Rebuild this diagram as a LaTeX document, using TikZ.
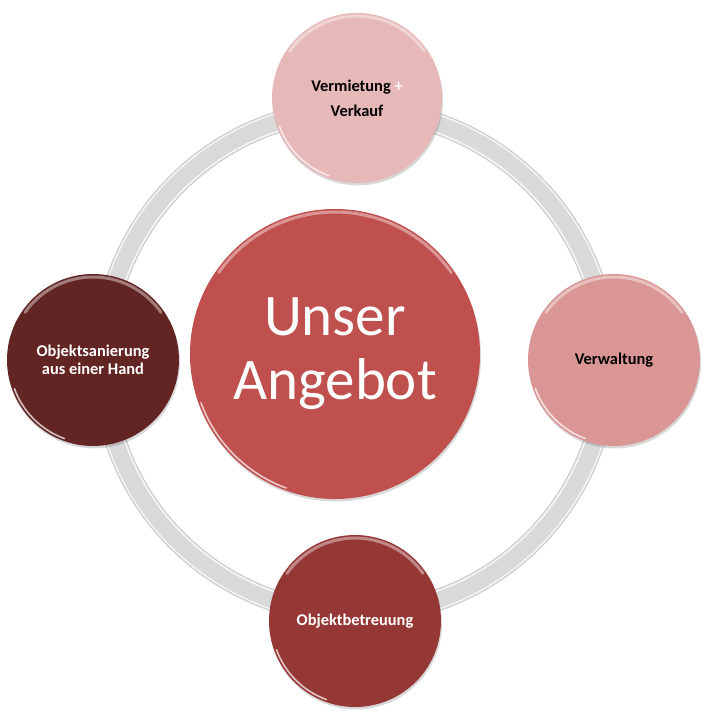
\documentclass[tikz,border=0pt]{standalone}
\usepackage{fontspec}
\setmainfont{Carlito}
\usetikzlibrary{shadows,calc}
\definecolor{ringgray}{HTML}{D9D9D9}
\definecolor{ringedge}{HTML}{CCCCCC}
\definecolor{cTop}{HTML}{E6B8B7}
\definecolor{cRight}{HTML}{D99694}
\definecolor{cCenter}{HTML}{C0504D}
\definecolor{cLeft}{HTML}{632523}
\definecolor{cBottom}{HTML}{953735}
\begin{document}
\begin{tikzpicture}[x=0.5pt,y=-0.5pt,
  bubble/.style={circle, inner sep=0pt, align=center,
    font=\bfseries\fontsize{8.2}{12.5}\selectfont,
    drop shadow={shadow xshift=0.5pt, shadow yshift=-1.2pt, opacity=0.22, fill=black!70}},
  sheen/.style={white, opacity=0.4, line width=1.5pt, line cap=round},
  rim/.style={white, opacity=0.7, line width=0.8pt, line cap=round},
]
\useasboundingbox (0,0) rectangle (720,720);
% ring
\coordinate (ringc) at (355,362);
\draw[line width=10.5pt, ringgray] (ringc) circle[radius=252];
\draw[ringedge, line width=0.4pt] (ringc) circle[radius=262.5];
\draw[white, opacity=0.8, line width=0.6pt] (ringc) circle[radius=260.8];
\draw[ringedge, line width=0.4pt] (ringc) circle[radius=241.5];
\draw[white, opacity=0.8, line width=0.7pt] (ringc) circle[radius=243.3];

% outer bubbles
\node[bubble, fill=cTop, minimum size=85pt] (top) at (357,98)
  {Vermietung {\color{white}+}\\Verkauf};
\node[bubble, fill=cRight, minimum size=86pt] (right) at (614,360) {Verwaltung};
\node[bubble, fill=cLeft, minimum size=86pt, text=white,
  font=\bfseries\fontsize{8.2}{9}\selectfont] (left) at (93,360)
  {Objektsanierung\\aus einer Hand};
\node[bubble, fill=cBottom, minimum size=86pt, text=white] (bottom) at (355,621) {Objektbetreuung};
% center
\node[bubble, fill=cCenter, minimum size=145pt, text=white,
  font=\fontsize{29.5}{32}\selectfont] (center) at (335,354) {Unser\\Angebot};

% highlights
\foreach \n/\r in {top/42.5, right/43, left/43, bottom/43, center/72.5}{
  \draw[sheen] ($(\n)+(145:\r pt-1.5pt)$) arc[start angle=145, end angle=35, radius=\r pt-1.5pt];
  \draw[rim] ($(\n)+(200:\r pt-1.2pt)$) arc[start angle=200, end angle=250, radius=\r pt-1.2pt];
}
\end{tikzpicture}
\end{document}
